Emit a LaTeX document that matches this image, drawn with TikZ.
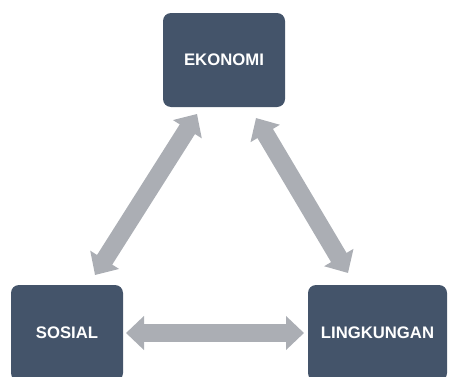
\documentclass[tikz,border=0pt]{standalone}
\usepackage{fontspec}
\setmainfont{Liberation Sans}
\usetikzlibrary{arrows.meta}
\definecolor{boxblue}{HTML}{44546A}
\definecolor{arrowgrey}{HTML}{ABAEB4}
\tikzset{
  pillar/.style={fill=boxblue, draw=none, rounded corners=8pt, text=white,
    font=\bfseries\fontsize{16.7}{18}\selectfont, inner sep=0pt, align=center},
  biarrow/.style={draw=arrowgrey, line width=18pt,
    {Triangle[width=33pt,length=18pt]}-{Triangle[width=33pt,length=18pt]}}
}
\begin{document}
\begin{tikzpicture}[x=1pt,y=1pt]
\useasboundingbox (0,0) rectangle (449,376);
\clip (0,0) rectangle (449,376);
\node[pillar, minimum width=122pt, minimum height=94pt] (eko) at (224,316) {EKONOMI};
\node[pillar, minimum width=112pt, minimum height=96pt] (sos) at (67,43) {SOSIAL};
\node[pillar, minimum width=139pt, minimum height=96pt] (lin) at (377.5,43) {LINGKUNGAN};
\coordinate (l1) at (95,101);
\coordinate (l2) at (197,262);
\coordinate (r1) at (256,258);
\coordinate (r2) at (348,103);
\coordinate (h1) at (126,43);
\coordinate (h2) at (304,43);
\draw[biarrow] (l1) -- (l2);
\draw[biarrow] (r1) -- (r2);
\draw[biarrow] (h1) -- (h2);
\end{tikzpicture}
\end{document}
